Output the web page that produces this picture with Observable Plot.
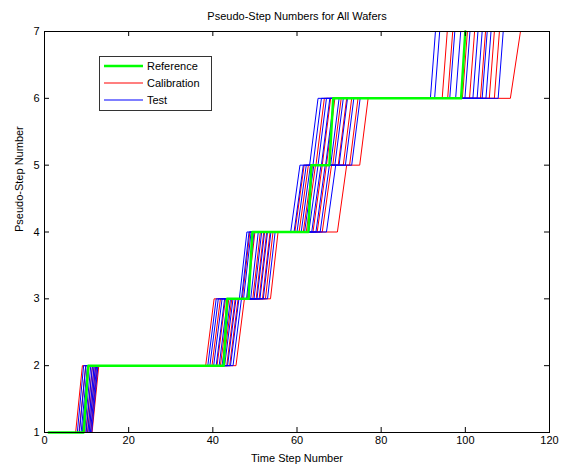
<!DOCTYPE html>
<html><head><meta charset="utf-8">
<script src="https://cdn.jsdelivr.net/npm/d3@7"></script>
<script src="https://cdn.jsdelivr.net/npm/@observablehq/plot@0.6"></script>
<style>
body{margin:0;background:#fff;font-family:"Liberation Sans",Arial,sans-serif;}
#wrap{position:relative;width:564px;height:469px;}
#legend{position:absolute;left:99px;top:56px;}
</style></head><body><div id="wrap"></div>
<script>
const titleText = "Pseudo-Step Numbers for All Wafers";
const xLabelText = "Time Step Number";
const yLabelText = "Pseudo-Step Number";
const xTicks = [0, 20, 40, 60, 80, 100, 120];
const yTicks = [1, 2, 3, 4, 5, 6, 7];
const legendLabels = ["Reference", "Calibration", "Test"];
const legendColors = ["#00ff00", "#ff0000", "#0000ff"];
const tStart = 1;

// time step at which each series starts rising to the next pseudo-step (1->2 ... 6->7)
const referenceRises = [9.3, 42.6, 48.5, 62.7, 67.7, 99.0];
const referenceRiseLength = [1.1, 0.8, 0.9, 0.7, 0.9, 1.0];

const calibrationRises = [
  [7.4, 38.3, 47.0, 59.5, 64.5, 94.5],
  [8.2, 39.8, 48.2, 60.5, 66.0, 95.8],
  [9.0, 41.0, 49.5, 61.5, 67.0, 99.3],
  [9.8, 41.8, 50.3, 62.2, 68.5, 101.0],
  [10.2, 42.5, 51.0, 63.8, 69.8, 103.6],
  [10.6, 43.3, 51.8, 64.8, 71.0, 105.7],
  [11.0, 44.0, 52.5, 66.0, 72.5, 106.9],
  [11.3, 45.5, 53.7, 69.6, 74.9, 110.7]
];
const calibrationRiseLength = [1.6, 2.0, 1.8, 2.2, 2.0, 1.2];
const calibrationFinalRise = [1.2, 1.2, 1.2, 1.2, 1.2, 1.2, 1.2, 2.4];

const testRises = [
  [7.8, 38.8, 46.3, 58.5, 63.0, 91.7],
  [8.3, 39.3, 46.8, 59.3, 63.8, 92.7],
  [8.7, 40.2, 47.3, 60.0, 65.0, 96.3],
  [9.0, 40.8, 48.0, 61.0, 65.8, 97.7],
  [9.5, 41.5, 49.0, 61.8, 66.8, 99.9],
  [9.9, 42.2, 49.8, 62.8, 68.0, 101.8],
  [10.3, 42.8, 50.5, 63.5, 69.0, 102.8],
  [10.6, 43.5, 51.2, 64.5, 70.0, 104.0],
  [10.9, 44.2, 52.0, 65.5, 71.5, 104.9],
  [11.2, 44.8, 53.0, 67.0, 73.0, 107.8]
];
const testRiseLength = [1.5, 2.0, 1.8, 2.2, 2.0, 1.2];

function steps(rises, lens, name) {
  const pts = [{t: tStart, v: 1, name}];
  rises.forEach((r, k) => {
    pts.push({t: r, v: k + 1, name});
    pts.push({t: r + lens[k], v: k + 2, name});
  });
  return pts;
}
const refData = steps(referenceRises, referenceRiseLength, "ref");
const calData = calibrationRises.flatMap((r, i) =>
  steps(r, calibrationRiseLength.slice(0, 5).concat([calibrationFinalRise[i]]), "cal" + i));
const testData = testRises.flatMap((r, i) => steps(r, testRiseLength, "test" + i));

const W = 564, H = 469, mL = 44, mR = 15, mT = 31, mB = 37;
const innerW = W - mL - mR, innerH = H - mT - mB, tick = 5;
const fmt = d3.format("d");

const plot = Plot.plot({
  width: W, height: H, marginLeft: mL, marginRight: mR, marginTop: mT, marginBottom: mB,
  x: {domain: [0, 120]},
  y: {domain: [1, 7]},
  style: {fontFamily: "'Liberation Sans', Arial, sans-serif", fontSize: "11px", background: "white", color: "black", overflow: "visible"},
  marks: [
    Plot.line(calData, {x: "t", y: "v", z: "name", stroke: legendColors[1], strokeWidth: 1}),
    Plot.line(testData, {x: "t", y: "v", z: "name", stroke: legendColors[2], strokeWidth: 1}),
    Plot.line(refData, {x: "t", y: "v", z: "name", stroke: legendColors[0], strokeWidth: 2.5}),
    Plot.frame({stroke: "#000"}),
    Plot.tickX(xTicks, {x: d => d, insetTop: innerH - tick, stroke: "#000"}),
    Plot.tickX(xTicks, {x: d => d, insetBottom: innerH - tick, stroke: "#000"}),
    Plot.tickY(yTicks, {y: d => d, insetRight: innerW - tick, stroke: "#000"}),
    Plot.tickY(yTicks, {y: d => d, insetLeft: innerW - tick, stroke: "#000"}),
    Plot.axisX({ticks: xTicks, tickFormat: fmt, tickSize: 0, tickPadding: 4, label: null, fontSize: 11}),
    Plot.axisY({ticks: yTicks, tickFormat: fmt, tickSize: 0, tickPadding: 5, label: null, fontSize: 11}),
    Plot.text([titleText], {frameAnchor: "top", dy: -19, fontSize: 11, fill: "#000"}),
    Plot.text([xLabelText], {frameAnchor: "bottom", dy: 29, fontSize: 11, fill: "#000"}),
    Plot.text([yLabelText], {frameAnchor: "left", dx: -25, rotate: -90, fontSize: 11, fill: "#000"})
  ]
});
const wrap = document.getElementById("wrap");
wrap.appendChild(plot);

// legend
const ns = "http://www.w3.org/2000/svg";
const lg = document.createElementNS(ns, "svg");
lg.setAttribute("id", "legend");
lg.setAttribute("width", 114);
lg.setAttribute("height", 56);
const rect = document.createElementNS(ns, "rect");
rect.setAttribute("x", 0.5); rect.setAttribute("y", 0.5);
rect.setAttribute("width", 112); rect.setAttribute("height", 54);
rect.setAttribute("fill", "#fff"); rect.setAttribute("stroke", "#333");
lg.appendChild(rect);
legendLabels.forEach((lab, i) => {
  const y = 10 + i * 17;
  const ln = document.createElementNS(ns, "line");
  ln.setAttribute("x1", 5); ln.setAttribute("x2", 44);
  ln.setAttribute("y1", y); ln.setAttribute("y2", y);
  ln.setAttribute("stroke", legendColors[i]);
  ln.setAttribute("stroke-width", i === 0 ? 2.5 : 1.2);
  lg.appendChild(ln);
  const tx = document.createElementNS(ns, "text");
  tx.setAttribute("x", 48); tx.setAttribute("y", y);
  tx.setAttribute("dominant-baseline", "central");
  tx.setAttribute("font-size", 11);
  tx.setAttribute("font-family", "'Liberation Sans', Arial, sans-serif");
  tx.textContent = lab;
  lg.appendChild(tx);
});
wrap.appendChild(lg);
</script>
</body></html>
